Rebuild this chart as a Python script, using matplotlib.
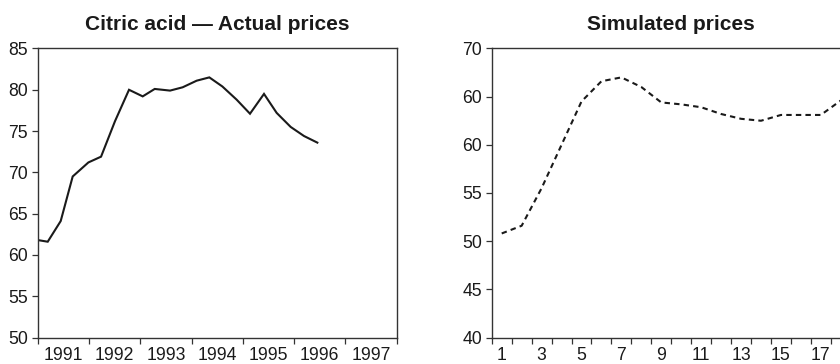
import matplotlib
matplotlib.use("Agg")
import matplotlib.pyplot as plt
import numpy as np

plt.rcParams["font.family"] = ["Liberation Sans", "DejaVu Sans"]

# Left panel: actual prices, x in years since start of 1991
actual_t = [0.0, 0.195, 0.448, 0.682, 0.988, 1.235, 1.507, 1.780, 2.047, 2.281, 2.580,
            2.826, 3.099, 3.346, 3.600, 3.879, 4.139, 4.412, 4.659, 4.932, 5.192, 5.452]
actual_price = [61.8, 61.6, 64.1, 69.5, 71.2, 71.9, 76.2, 80.0, 79.2, 80.1, 79.9,
                80.3, 81.1, 81.5, 80.4, 78.8, 77.1, 79.5, 77.2, 75.5, 74.4, 73.6]
years = ["1991", "1992", "1993", "1994", "1995", "1996", "1997"]
left_yticks = [50, 55, 60, 65, 70, 75, 80, 85]

# Right panel: simulated prices by period
sim_period = list(range(1, 19))
sim_price = [50.8, 51.6, 55.5, 60.0, 64.5, 66.6, 67.0, 66.0, 64.4, 64.2, 63.9,
             63.2, 62.7, 62.5, 63.1, 63.1, 63.1, 64.6]
right_yticks = [40, 45, 50, 55, 60, 65, 70]
right_ylabels = ["40", "45", "50", "55", "60", "60", "70"]
period_labels = ["1", "3", "5", "7", "9", "11", "13", "15", "17"]

ink = "#1a1a1a"
spine_c = "#333333"

fig = plt.figure(figsize=(8.4, 3.64), dpi=100)
ax1 = fig.add_axes([0.0449, 0.0728, 0.4274, 0.794])
ax2 = fig.add_axes([0.5854, 0.0728, 0.4274, 0.794])

# left
ax1.plot(actual_t, actual_price, color=ink, lw=1.5, solid_joinstyle="miter")
ax1.set_xlim(0, len(years))
ax1.set_ylim(50, 85)
ax1.set_yticks(left_yticks)
ax1.set_xticks(np.arange(len(years) + 1))
ax1.set_xticklabels([])
ax1.set_xticks(np.arange(len(years)) + 0.5, minor=True)
ax1.set_xticklabels(years, minor=True)
ax1.set_title("Citric acid \u2014 Actual prices", fontsize=15, fontweight="bold",
              color=ink, pad=13)

# right
ax2.plot(sim_period, sim_price, color=ink, lw=1.5, dashes=(2.6, 2.0))
ax2.set_xlim(0.5, 18.5)
ax2.set_ylim(40, 70)
ax2.set_yticks(right_yticks)
ax2.set_yticklabels(right_ylabels)
ax2.set_xticks(np.arange(0.5, 19.0, 1.0))
ax2.set_xticklabels([])
ax2.set_xticks([int(s) for s in period_labels], minor=True)
ax2.set_xticklabels(period_labels, minor=True)
ax2.set_title("Simulated prices", fontsize=15, fontweight="bold", color=ink, pad=13)

for ax in (ax1, ax2):
    for sp in ax.spines.values():
        sp.set_color(spine_c)
        sp.set_linewidth(1.0)
    ax.tick_params(axis="both", which="major", direction="out", length=4.5,
                   width=0.9, color=spine_c, labelsize=12.7, labelcolor=ink, pad=2.5)
    ax.tick_params(axis="x", which="minor", length=0, labelsize=12.7,
                   labelcolor=ink, pad=6.5)

fig.savefig("out.png", dpi=100)
